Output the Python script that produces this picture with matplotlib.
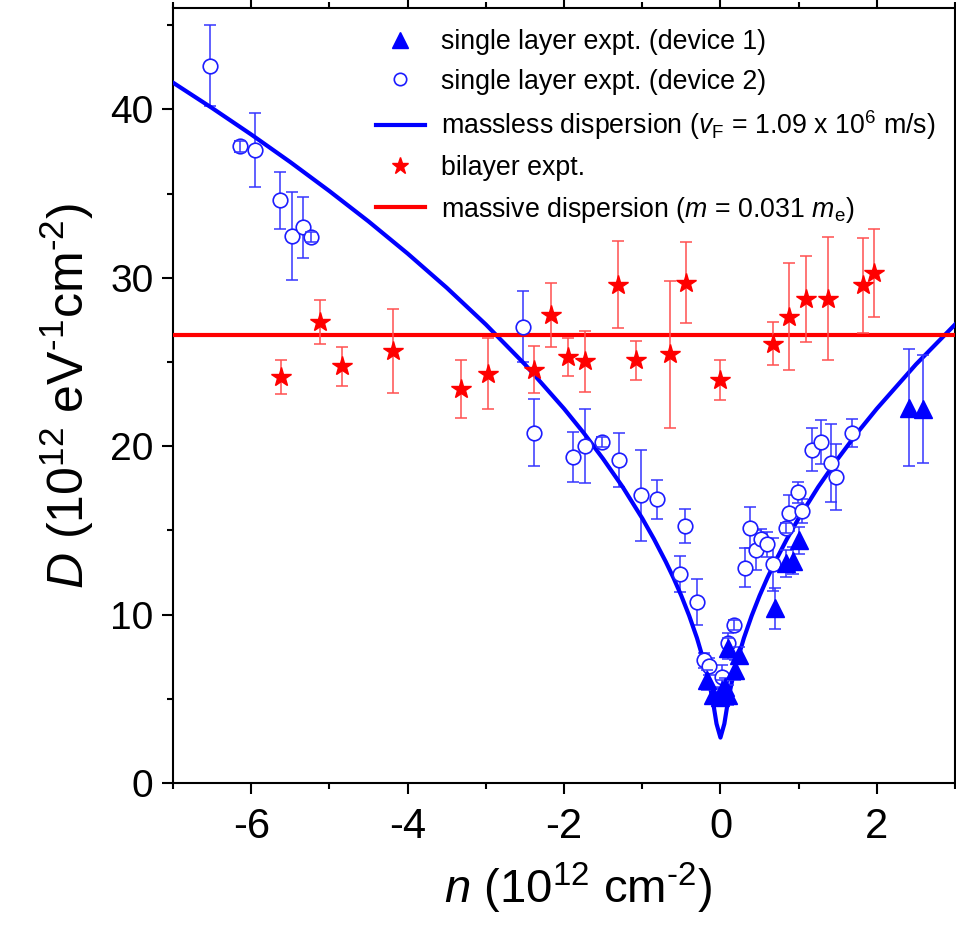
import numpy as np
import matplotlib
matplotlib.use("Agg")
from matplotlib import pyplot as plt
from matplotlib import font_manager
from matplotlib.ticker import MultipleLocator

# single layer, device 1 (filled triangles): n, D, error
dev1_n = [-0.17, -0.09, 0.00, 0.02, 0.10, 0.06, 0.19, 0.10, 0.24, 0.70, 0.84, 0.93, 1.00, 2.41, 2.59]
dev1_D = [6.1, 5.22, 5.12, 5.5, 5.22, 5.72, 6.7, 7.99, 7.6, 10.37, 13.04, 13.19, 14.42, 22.3, 22.2]
dev1_err = [0.6, 0.5, 0.5, 0.6, 0.6, 0.5, 0.6, 0.6, 0.5, 1.2, 0.8, 0.8, 0.8, 3.45, 3.2]

# single layer, device 2 (open circles)
dev2_n = [-6.53, -6.14, -5.95, -5.63, -5.48, -5.34, -5.23, -2.53, -2.39, -1.88, -1.73, -1.51,
          -1.30, -1.02, -0.81, -0.45, -0.52, -0.30, -0.21, -0.15, 0.02, 0.10, 0.17, 0.31,
          0.38, 0.45, 0.52, 0.59, 0.67, 0.84, 0.88, 0.99, 1.04, 1.17, 1.28, 1.42, 1.48, 1.68]
dev2_D = [42.6, 37.8, 37.6, 34.6, 32.5, 33.0, 32.4, 27.1, 20.8, 19.35, 20.0, 20.25,
          19.2, 17.09, 16.85, 15.27, 12.44, 10.76, 7.3, 6.94, 6.3, 8.29, 9.38, 12.78,
          15.17, 13.83, 14.52, 14.18, 12.98, 15.17, 16.04, 17.27, 16.16, 19.8, 20.26, 19.0, 18.18, 20.8]
dev2_err = [2.4, 0.3, 2.2, 1.7, 2.6, 1.8, 0.3, 2.1, 2.0, 1.5, 2.2, 0.3,
            1.6, 2.7, 1.17, 1.0, 1.07, 1.37, 0.45, 0.5, 0.7, 0.6, 0.3, 1.15,
            1.2, 1.2, 0.55, 0.75, 1.6, 0.3, 1.05, 0.63, 0.73, 1.27, 1.3, 2.34, 1.94, 0.83]

# bilayer (stars)
bi_n = [-5.62, -5.12, -4.84, -4.19, -3.32, -2.97, -2.39, -2.17, -1.95, -1.73, -1.31,
        -1.08, -0.64, -0.44, 0.00, 0.67, 0.88, 1.09, 1.37, 1.82, 1.97]
bi_D = [24.1, 27.4, 24.75, 25.65, 23.4, 24.3, 24.55, 27.8, 25.3, 25.05, 29.6,
        25.1, 25.45, 29.7, 23.95, 26.1, 27.7, 28.75, 28.75, 29.55, 30.3]
bi_err = [1.0, 1.3, 1.15, 2.5, 1.73, 2.1, 1.4, 1.9, 1.15, 1.8, 2.6,
          1.15, 4.35, 2.4, 1.2, 1.3, 3.2, 2.55, 3.65, 2.8, 2.6]

# massless dispersion curve
curve_n = [-7, -6.5, -6, -5.5, -5, -4.5, -4, -3.5, -3, -2.5, -2, -1.75, -1.5, -1.25, -1,
           -0.85, -0.7, -0.6, -0.5, -0.4, -0.3, -0.2, -0.15, -0.1, -0.05,
           0, 0.05, 0.1, 0.15, 0.2, 0.3, 0.4, 0.5, 0.6, 0.7, 0.85, 1, 1.25, 1.5, 1.75,
           2, 2.5, 3]
curve_D = [41.59, 40.08, 38.51, 36.87, 35.15, 33.35, 31.44, 29.41, 27.23, 24.86, 22.23,
           20.80, 19.25, 17.58, 15.72, 14.49, 13.15, 12.18, 11.12, 9.94, 8.61, 7.03, 6.09,
           4.97, 3.52,
           2.7, 3.52, 4.97, 6.09, 7.03, 8.61, 9.94, 11.12, 12.18, 13.15, 14.49, 15.72,
           17.58, 19.25, 20.80, 22.23, 24.86, 27.23]

# massive dispersion (constant)
massive_D = 26.6

names = {f.name for f in font_manager.fontManager.ttflist}
base = "Liberation Sans"
narrow = "Liberation Sans Narrow" if "Liberation Sans Narrow" in names else base
leg_size = 23.5 if narrow != base else 19.3
xt_size = 33 if narrow != base else 30

plt.rcParams["font.family"] = base
plt.rcParams["axes.unicode_minus"] = False
plt.rcParams["mathtext.fontset"] = "custom"
plt.rcParams["mathtext.rm"] = base
plt.rcParams["mathtext.it"] = base + ":italic"

fig = plt.figure(figsize=(9.56, 9.30), dpi=100)
ax = fig.add_axes([0.181, 0.158, 0.818, 0.833])

blue = "#0000ff"
red = "#ff0000"
ebar_blue = "#3535ff"
ebar_red = "#ff5050"
cap = 4.3

# error bars for circles, under the markers
ax.errorbar(dev2_n, dev2_D, yerr=dev2_err, fmt="none", ecolor=ebar_blue,
            elinewidth=1.1, capsize=cap, capthick=1.1, zorder=3)
circ, = ax.plot(dev2_n, dev2_D, "o", ms=10.5, mfc="white", mec="#1c1cff", mew=1.2, zorder=4)
# very small error bars sit on top of the circle
small = [i for i in range(len(dev2_err)) if dev2_err[i] < 0.4]
ax.errorbar([dev2_n[i] for i in small], [dev2_D[i] for i in small],
            yerr=[dev2_err[i] for i in small], fmt="none", ecolor=ebar_blue,
            elinewidth=1.1, capsize=cap, capthick=1.1, zorder=5)

tri = ax.errorbar(dev1_n, dev1_D, yerr=dev1_err, fmt="^", ms=13, color=blue, mec=blue,
                  ecolor=ebar_blue, elinewidth=1.1, capsize=cap, capthick=1.1, zorder=4)

curve, = ax.plot(curve_n, curve_D, color=blue, lw=3, zorder=3.5)

star = ax.errorbar(bi_n, bi_D, yerr=bi_err, fmt="*", ms=15, color=red, mec=red,
                   ecolor=ebar_red, elinewidth=1.1, capsize=cap, capthick=1.1, zorder=4)
flat = ax.axhline(massive_D, color=red, lw=3, zorder=3.5)

ax.set_xlim(-7, 3)
ax.set_ylim(0, 46)
ax.xaxis.set_major_locator(MultipleLocator(2))
ax.xaxis.set_minor_locator(MultipleLocator(1))
ax.yaxis.set_major_locator(MultipleLocator(10))
ax.yaxis.set_minor_locator(MultipleLocator(5))
ax.tick_params(which="both", direction="out", width=1.5, top=True, right=True)
ax.tick_params(which="major", length=8)
ax.tick_params(which="minor", length=4)
ax.tick_params(axis="y", labelsize=28, pad=6)
ax.tick_params(axis="x", pad=9)
for lab in ax.get_xticklabels():
    lab.set_fontfamily(narrow)
    lab.set_fontsize(xt_size)
for s in ax.spines.values():
    s.set_linewidth(1.5)

ax.set_xlabel(r"$\mathit{n}$ (10$^{\mathregular{12}}$ cm$^{\text{-2}}$)",
              fontsize=34, family=narrow)
ax.xaxis.set_label_coords(0.518, -0.1)
ax.set_ylabel(r"$\mathit{D}$ (10$^{\mathregular{12}}$ eV$^{\text{-1}}$cm$^{\text{-2}}$)",
              fontsize=36, labelpad=10)

handles = [tri[0], circ, curve, star[0], flat]
labels = ["single layer expt. (device 1)",
          "single layer expt. (device 2)",
          r"massless dispersion ($\mathit{v}_{\mathregular{F}}$ = 1.09 x 10$^{\mathregular{6}}$ m/s)",
          "bilayer expt.",
          r"massive dispersion ($\mathit{m}$ = 0.031 $\mathit{m}_{\mathregular{e}}$)"]
ax.legend(handles, labels, loc="upper left", bbox_to_anchor=(0.26, 0.973), frameon=False,
          borderpad=0, borderaxespad=0, handlelength=1.8, handletextpad=0.6,
          labelspacing=0.5, prop={"family": narrow, "size": leg_size}, numpoints=1,
          markerscale=0.85)

fig.savefig("out.png", dpi=100)
